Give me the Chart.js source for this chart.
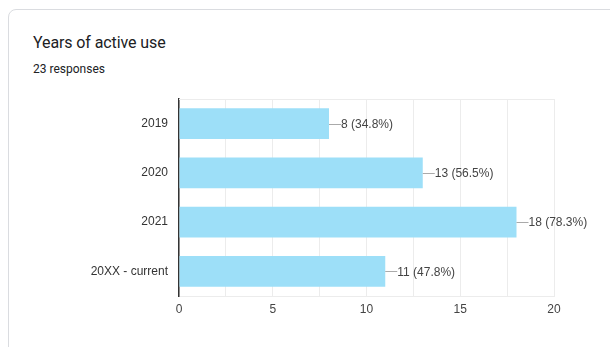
<!DOCTYPE html>
<html>
<head>
<meta charset="utf-8">
<script src="https://cdn.jsdelivr.net/npm/chart.js@4"></script>
<style>
  html, body { margin: 0; padding: 0; background: #fff; }
  body { width: 610px; height: 347px; position: relative; overflow: hidden; }
  .card {
    position: absolute; left: 8px; top: 9px; width: 640px; height: 400px;
    border: 1px solid #dadce0; border-radius: 8px; box-sizing: border-box;
  }
  .title {
    position: absolute; left: 33px; top: 33px;
    font-family: Roboto, "Open Sans", sans-serif; font-size: 16px; color: #202124;
    letter-spacing: -0.1px;
  }
  .sub {
    position: absolute; left: 33px; top: 62px;
    font-family: Roboto, sans-serif; font-size: 12px; color: #202124;
  }
  #chartWrap { position: absolute; left: 0; top: 0; width: 610px; height: 347px; }
</style>
</head>
<body>
<div class="card"></div>
<div class="title">Years of active use</div>
<div class="sub">23 responses</div>
<div id="chartWrap"><canvas id="myChart"></canvas></div>
<script>
const categories = ['2019', '2020', '2021', '20XX - current'];
const counts = [8, 13, 18, 11];
const totalResponses = 23;
const xTickLabels = [0, 5, 10, 15, 20];

// value + percentage label at the end of each bar, with a short leader line
const barLabels = {
    id: 'barLabels',
    afterDatasetsDraw(chart) {
        const ctx = chart.ctx;
        const area = chart.chartArea;
        ctx.save();
        // top edge of the plot
        ctx.strokeStyle = '#ececec';
        ctx.lineWidth = 1;
        ctx.beginPath();
        ctx.moveTo(area.left, area.top + 0.5);
        ctx.lineTo(area.right, area.top + 0.5);
        ctx.stroke();

        ctx.font = '12px "Liberation Sans", Arial, sans-serif';
        ctx.textBaseline = 'middle';
        ctx.fillStyle = '#444';
        chart.getDatasetMeta(0).data.forEach((bar, i) => {
            const v = counts[i];
            const pct = (v / totalResponses * 100).toFixed(1);
            ctx.strokeStyle = '#aaa';
            ctx.beginPath();
            ctx.moveTo(bar.x, Math.round(bar.y) + 0.5);
            ctx.lineTo(bar.x + 12, Math.round(bar.y) + 0.5);
            ctx.stroke();
            ctx.fillText(v + ' (' + pct + '%)', bar.x + 12, bar.y + 1);
        });
        ctx.restore();
    }
};

const ctx = document.getElementById('myChart').getContext('2d');
const myChart = new Chart(ctx, {
    type: 'bar',
    data: {
        labels: categories,
        datasets: [{
            data: counts,
            backgroundColor: '#9ddff8',
            borderWidth: 0,
            categoryPercentage: 0.62,
            barPercentage: 1
        }]
    },
    options: {
        indexAxis: 'y',
        responsive: true,
        maintainAspectRatio: false,
        animation: false,
        layout: { padding: { top: 99, right: 56, left: 0, bottom: 0 } },
        plugins: { legend: { display: false }, tooltip: { enabled: false } },
        scales: {
            x: {
                min: 0,
                max: 20,
                afterFit: (s) => { s.height = 51; },
                ticks: {
                    stepSize: 2.5,
                    autoSkip: false,
                    maxRotation: 0,
                    padding: 6,
                    color: '#444',
                    font: { family: '"Liberation Sans", Arial, sans-serif', size: 12 },
                    callback: (v) => xTickLabels.includes(v) ? v : ''
                },
                grid: { color: '#ececec', drawTicks: false },
                border: { color: '#ececec' }
            },
            y: {
                afterFit: (s) => { s.width = 179; },
                ticks: {
                    padding: 11,
                    color: '#333',
                    font: { family: '"Liberation Sans", Arial, sans-serif', size: 12 }
                },
                grid: { display: false, drawTicks: false },
                border: { color: '#333', width: 1.5 }
            }
        }
    },
    plugins: [barLabels]
});
</script>
</body>
</html>
